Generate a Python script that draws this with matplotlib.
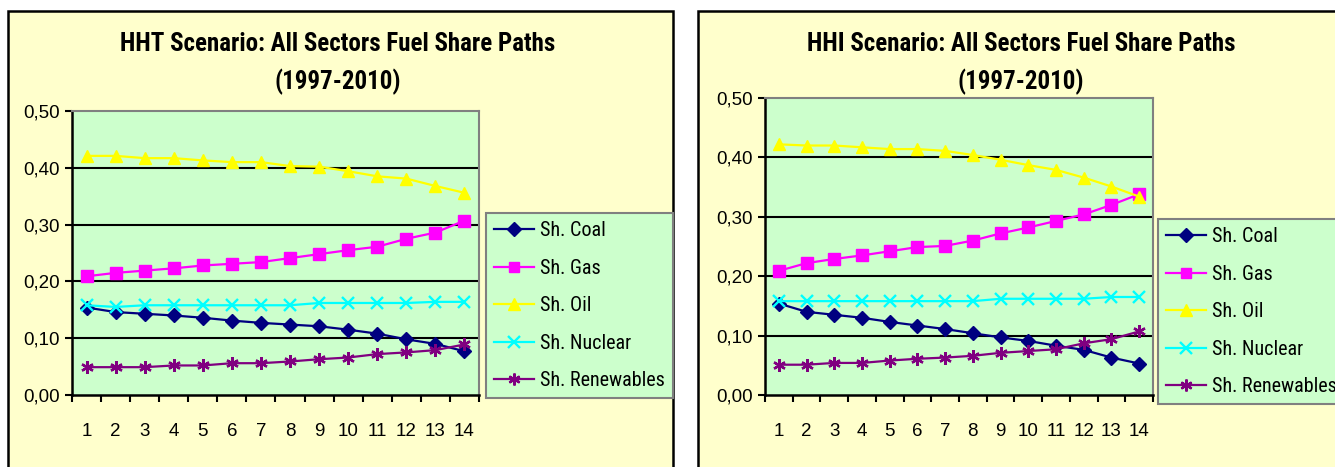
import matplotlib
matplotlib.use("Agg")
import matplotlib.pyplot as plt
from matplotlib import font_manager
from matplotlib.patches import Rectangle
from matplotlib.ticker import FuncFormatter

years = list(range(1, 15))
labels = ["Sh. Coal", "Sh. Gas", "Sh. Oil", "Sh. Nuclear", "Sh. Renewables"]

hht_coal = [0.154, 0.146, 0.143, 0.140, 0.136, 0.131, 0.127, 0.124, 0.121, 0.115, 0.108, 0.098, 0.090, 0.077]
hht_gas = [0.209, 0.215, 0.219, 0.223, 0.228, 0.231, 0.234, 0.241, 0.248, 0.255, 0.261, 0.275, 0.286, 0.307]
hht_oil = [0.421, 0.421, 0.417, 0.417, 0.413, 0.410, 0.410, 0.403, 0.402, 0.394, 0.385, 0.381, 0.368, 0.356]
hht_nuclear = [0.158, 0.155, 0.158, 0.158, 0.158, 0.158, 0.158, 0.158, 0.162, 0.162, 0.162, 0.162, 0.164, 0.164]
hht_renew = [0.049, 0.049, 0.049, 0.052, 0.052, 0.056, 0.056, 0.059, 0.063, 0.066, 0.072, 0.075, 0.079, 0.089]

hhi_coal = [0.154, 0.140, 0.135, 0.130, 0.123, 0.117, 0.111, 0.104, 0.097, 0.091, 0.083, 0.076, 0.063, 0.053]
hhi_gas = [0.209, 0.222, 0.229, 0.235, 0.242, 0.249, 0.251, 0.260, 0.272, 0.282, 0.293, 0.304, 0.320, 0.338]
hhi_oil = [0.422, 0.420, 0.420, 0.417, 0.414, 0.414, 0.411, 0.404, 0.396, 0.387, 0.379, 0.366, 0.351, 0.334]
hhi_nuclear = [0.158, 0.158, 0.158, 0.158, 0.158, 0.158, 0.158, 0.158, 0.162, 0.162, 0.162, 0.162, 0.165, 0.165]
hhi_renew = [0.051, 0.051, 0.054, 0.054, 0.058, 0.061, 0.063, 0.066, 0.071, 0.074, 0.077, 0.087, 0.094, 0.107]

colors = ["#000080", "#FF00FF", "#FFFF00", "#00FFFF", "#800080"]
markers = ["D", "s", "^", "x", (6, 2, 0)]
msizes = [7.5, 8, 9, 9, 9]


def has_bold(name):
    for f in font_manager.fontManager.ttflist:
        if f.name == name and isinstance(f.weight, int) and f.weight >= 700:
            return True
    return False


# a narrow sans with a real bold face, else plain Arial metrics
narrow = "Liberation Sans"
for name in ["Liberation Sans Narrow", "Arial Narrow", "Archivo Narrow", "Roboto Condensed",
             "PT Sans Narrow", "Pragati Narrow", "Fira Sans Condensed"]:
    if has_bold(name):
        narrow = name
        break

W, H = 1335, 467
fig = plt.figure(figsize=(W / 100, H / 100), dpi=100)
fig.patch.set_facecolor("white")


def px(x0, y0, x1, y1):
    # pixel box (top-left origin) -> figure fraction rect
    return [x0 / W, 1 - y1 / H, (x1 - x0) / W, (y1 - y0) / H]


def panel(frame, axbox, title, title_x, series, legbox):
    fx0, fy0, fx1, fy1 = frame
    fig.patches.append(Rectangle((fx0 / W, 1 - fy1 / H), (fx1 - fx0) / W, (fy1 - fy0) / H,
                                 transform=fig.transFigure, facecolor="#FFFFCC",
                                 edgecolor="black", linewidth=1.8, zorder=0))
    for line, ty in zip(title, (44, 82)):
        fig.text(title_x / W, 1 - ty / H, line, ha="center", va="center",
                 fontsize=18, fontweight="bold", family=narrow, zorder=3)

    ax = fig.add_axes(px(*axbox))
    ax.set_zorder(2)
    ax.set_facecolor("#CCFFCC")
    for vals, c, m, ms, lab in zip(series, colors, markers, msizes, labels):
        ax.plot(years, vals, color=c, marker=m, markersize=ms, linewidth=1.6,
                markeredgewidth=1.7 if m in ("x", (6, 2, 0)) else 1.0, label=lab,
                clip_on=False, zorder=3)

    ax.set_xlim(0.5, 14.5)
    ax.set_ylim(0, 0.5)
    ax.set_yticks([0, 0.1, 0.2, 0.3, 0.4, 0.5])
    ax.yaxis.set_major_formatter(FuncFormatter(lambda v, p: f"{v:.2f}".replace(".", ",")))
    for y in [0.1, 0.2, 0.3, 0.4]:
        ax.axhline(y, color="black", linewidth=1.5, zorder=1)

    ax.set_xticks(years)
    ax.set_xticks([i + 0.5 for i in range(0, 15)], minor=True)
    ax.tick_params(axis="x", which="major", length=0, pad=20, labelsize=13.5)
    ax.tick_params(axis="x", which="minor", length=5, width=1.5, direction="out")
    ax.tick_params(axis="y", length=5, width=1.5, pad=4, labelsize=13.5)
    for lab in ax.get_xticklabels() + ax.get_yticklabels():
        lab.set_family("Liberation Sans")

    for s in ["top", "right"]:
        ax.spines[s].set_color("#808080")
        ax.spines[s].set_linewidth(1.5)
    for s in ["left", "bottom"]:
        ax.spines[s].set_color("black")
        ax.spines[s].set_linewidth(1.8)

    lx0, ly0, lx1, ly1 = legbox
    leg = ax.legend(loc="upper left", bbox_to_anchor=(lx0 / W, 1 - ly0 / H),
                    bbox_transform=fig.transFigure, frameon=True, fancybox=False,
                    prop={"family": narrow, "size": 14.5}, handlelength=2.0,
                    handletextpad=0.3, labelspacing=0.92, borderpad=0.4,
                    borderaxespad=0, markerscale=0.95)
    leg.get_frame().set_facecolor("#CCFFCC")
    leg.get_frame().set_edgecolor("#808080")
    leg.get_frame().set_linewidth(1.5)
    leg.get_frame().set_alpha(1)
    return ax


panel((8, 11, 673, 490), (72, 111, 479, 395),
      ["HHT Scenario: All Sectors Fuel Share Paths", "(1997-2010)"], 338,
      [hht_coal, hht_gas, hht_oil, hht_nuclear, hht_renew], (486, 213, 671, 399))

panel((698, 11, 1360, 490), (765, 98, 1153, 395),
      ["HHI Scenario: All Sectors Fuel Share Paths", "(1997-2010)"], 1021,
      [hhi_coal, hhi_gas, hhi_oil, hhi_nuclear, hhi_renew], (1158, 219, 1360, 407))

fig.savefig("out.png", dpi=100)
